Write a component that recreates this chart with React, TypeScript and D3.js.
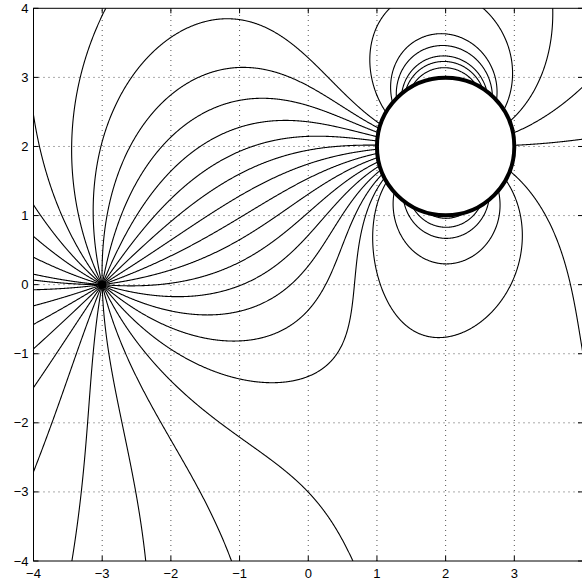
import React, { useMemo } from "react";
import * as d3 from "d3";

const W = 582;
const H = 584;

// axes
const xDomain = [-4, 4];
const yDomain = [-4, 4];
const xTicks = [-4, -3, -2, -1, 0, 1, 2, 3, 4];
const yTicks = [-4, -3, -2, -1, 0, 1, 2, 3, 4];
const xLabels = ["\u22124", "\u22123", "\u22122", "\u22121", "0", "1", "2", "3"];
const yLabels = ["\u22124", "\u22123", "\u22122", "\u22121", "0", "1", "2", "3", "4"];

// line charge at the left, line dipole (pointing +x) hidden by the disc
const chargePos = [-3, 0];
const dipolePos = [2, 2];
const dipoleMoment = 3.3;
const discRadius = 1;

// start angles (deg) of the field lines leaving the charge
const chargeSeedAngles = [
  7.5, 19.5, 31.5, 43.5, 55.5, 67.5, 79.5, 91.5, 103.5, 115.5, 127.5, 139.5, 151.5, 163.5, 175.5,
  180, 187.5, 199.5, 211.5, 223.5, 235.5, 247.5, 259.5, 271.5, 283.5, 295.5, 307.5, 319.5, 331.5,
  343.5, 355.5,
];
// points the other lines pass through (loops on the disc, lines leaving it)
const seedX = [2, 2, 2, 2, 2, 2.6, 1.14, 3.56, 3.95, 3.95, 3.95, 2, 2, 2, 2, 2];
const seedY = [3.14, 3.23, 3.31, 3.46, 3.63, 3.95, 3.95, 3.95, 2.82, 2.1, -0.7, 0.96, 0.83, 0.67, 0.3, -0.76];

function field(x: number, y: number): [number, number] {
  const [qx, qy] = chargePos;
  const [cx, cy] = dipolePos;
  const ax = x - qx, ay = y - qy;
  const r0 = ax * ax + ay * ay;
  const dx = x - cx, dy = y - cy;
  const r2 = dx * dx + dy * dy;
  const ex = ax / r0 + (dipoleMoment * (dx * dx - dy * dy)) / (r2 * r2);
  const ey = ay / r0 + (dipoleMoment * 2 * dx * dy) / (r2 * r2);
  const n = Math.hypot(ex, ey) || 1;
  return [ex / n, ey / n];
}

function trace(sx: number, sy: number, dir: number) {
  const pts: [number, number][] = [[sx, sy]];
  const h = 0.008 * dir;
  let x = sx, y = sy;
  for (let i = 0; i < 4000; i++) {
    const k1 = field(x, y);
    const k2 = field(x + (h / 2) * k1[0], y + (h / 2) * k1[1]);
    const k3 = field(x + (h / 2) * k2[0], y + (h / 2) * k2[1]);
    const k4 = field(x + h * k3[0], y + h * k3[1]);
    x += (h / 6) * (k1[0] + 2 * k2[0] + 2 * k3[0] + k4[0]);
    y += (h / 6) * (k1[1] + 2 * k2[1] + 2 * k3[1] + k4[1]);
    pts.push([x, y]);
    if (Math.abs(x) > 4.1 || Math.abs(y) > 4.1) break;
    if (Math.hypot(x - dipolePos[0], y - dipolePos[1]) < discRadius * 0.97) break;
    if (Math.hypot(x - chargePos[0], y - chargePos[1]) < 0.01) break;
  }
  return pts;
}

export default function App() {
  const x = d3.scaleLinear().domain(xDomain).range([33.5, 583]);
  const y = d3.scaleLinear().domain(yDomain).range([561, 8.3]);
  const line = d3
    .line<[number, number]>()
    .x(d => x(d[0]))
    .y(d => y(d[1]));

  const paths = useMemo(() => {
    const out: string[] = [];
    chargeSeedAngles.forEach(a => {
      const t = (a * Math.PI) / 180;
      const sx = chargePos[0] + 0.012 * Math.cos(t);
      const sy = chargePos[1] + 0.012 * Math.sin(t);
      out.push(line([[chargePos[0], chargePos[1]], ...trace(sx, sy, 1)]) || "");
    });
    seedX.forEach((sx, i) => {
      const fwd = trace(sx, seedY[i], 1);
      const back = trace(sx, seedY[i], -1);
      out.push(line([...back.reverse(), ...fwd]) || "");
    });
    return out;
  }, []);

  const [x0, x1] = x.range();
  const [y0, y1] = y.range();

  return (
    <svg
      width={W}
      height={H}
      style={{ position: "absolute", left: 0, top: 0, background: "#fff" }}
      fontFamily="'Liberation Sans', Arial, sans-serif"
    >
      <defs>
        <clipPath id="plot">
          <rect x={x0} y={y1} width={x1 - x0} height={y0 - y1} />
        </clipPath>
      </defs>
      <rect x={0} y={0} width={W} height={H} fill="#fff" />

      {/* dotted grid */}
      <g stroke="#555" strokeWidth={1} strokeDasharray="1,4">
        {xTicks.slice(1, -1).map(t => (
          <line key={t} x1={x(t)} x2={x(t)} y1={y0} y2={y1} />
        ))}
        {yTicks.slice(1, -1).map(t => (
          <line key={t} y1={y(t)} y2={y(t)} x1={x0} x2={x1} />
        ))}
      </g>

      {/* field lines */}
      <g clipPath="url(#plot)">
        {paths.map((d, i) => (
          <path key={i} d={d} fill="none" stroke="#000" strokeWidth={1.1} />
        ))}
        <circle
          cx={x(dipolePos[0])}
          cy={y(dipolePos[1])}
          r={x(discRadius) - x(0)}
          fill="#fff"
          stroke="#000"
          strokeWidth={4}
        />
        <circle cx={x(chargePos[0])} cy={y(chargePos[1])} r={4} fill="#000" />
      </g>

      {/* frame + ticks */}
      <rect x={x0} y={y1} width={x1 - x0} height={y0 - y1} fill="none" stroke="#000" />
      <g stroke="#000">
        {xTicks.map(t => (
          <g key={t}>
            <line x1={x(t)} x2={x(t)} y1={y0} y2={y0 - 5} />
            <line x1={x(t)} x2={x(t)} y1={y1} y2={y1 + 5} />
          </g>
        ))}
        {yTicks.map(t => (
          <g key={t}>
            <line y1={y(t)} y2={y(t)} x1={x0} x2={x0 + 5} />
            <line y1={y(t)} y2={y(t)} x1={x1} x2={x1 - 5} />
          </g>
        ))}
      </g>
      <g fontSize={13} fill="#000">
        {xLabels.map((s, i) => (
          <text key={s} x={x(xTicks[i])} y={y0 + 17} textAnchor="middle">
            {s}
          </text>
        ))}
        {yLabels.map((s, i) => (
          <text key={s} x={x0 - 5} y={y(yTicks[i]) + 4.5} textAnchor="end">
            {s}
          </text>
        ))}
      </g>
    </svg>
  );
}
